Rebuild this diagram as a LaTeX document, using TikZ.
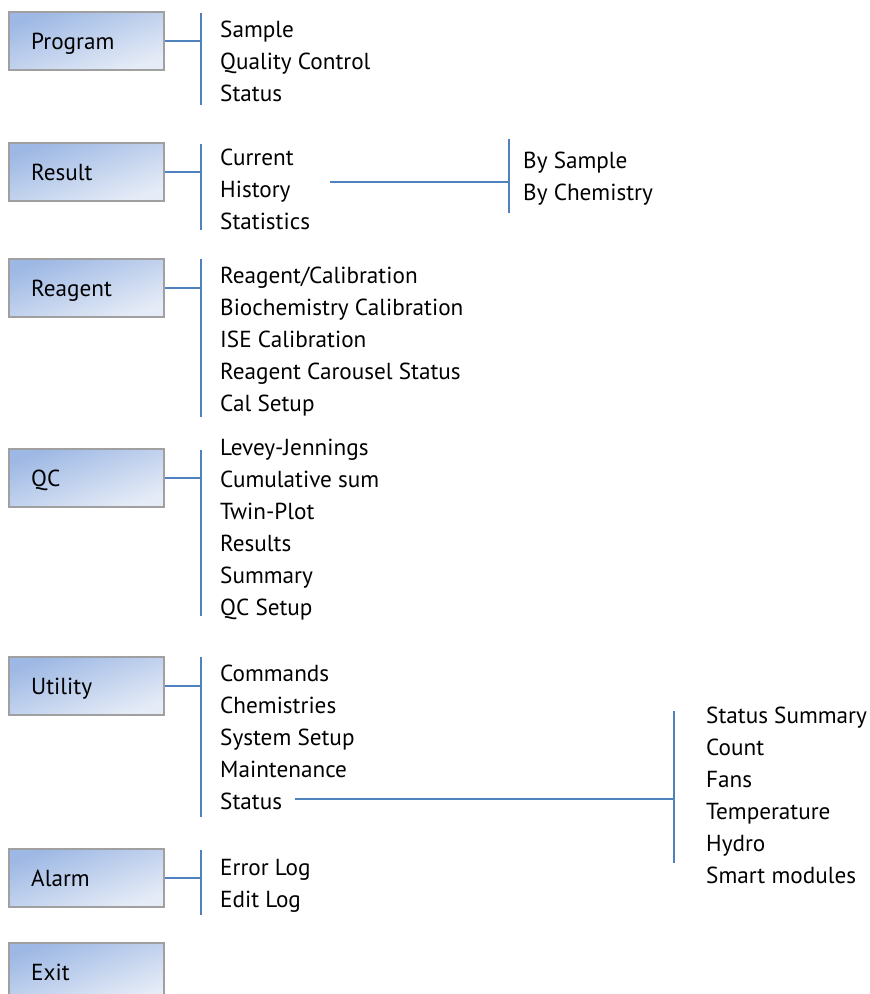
\documentclass[tikz,border=0pt]{standalone}
\usepackage{fontspec}
\setmainfont{PT Sans}
\definecolor{lineblue}{HTML}{4F81BD}
\definecolor{boxdark}{HTML}{9DB8E4}
\definecolor{boxlight}{HTML}{E6ECF7}
\definecolor{boxedge}{HTML}{A0A0A0}
\begin{document}
\begin{tikzpicture}[x=1pt,y=-1pt,
  menubox/.style={draw=boxedge,line width=1.1pt,top color=boxdark,bottom color=boxlight,shading angle=20,
    minimum width=155pt,minimum height=58pt,inner sep=0pt},
  boxlabel/.style={anchor=base west,inner sep=0pt,font=\fontsize{23.2}{27}\selectfont},
  item/.style={anchor=base west,inner sep=0pt,font=\fontsize{23.2}{27}\selectfont},
  conn/.style={draw=lineblue,line width=1.8pt}]
\useasboundingbox (0,0) rectangle (870,994);
% boxes
\foreach \n/\t/\cy in {prog/Program/41,res/Result/172,rea/Reagent/288,qc/QC/478,uti/Utility/686,ala/Alarm/878,exi/Exit/972}{
  \node[menubox] (\n) at (86.5,\cy) {};
  \node[boxlabel] (\n-lbl) at (31,\cy+8) {\t};
}
% bars
\coordinate (progT) at (201,13);  \coordinate (progB) at (201,105);
\coordinate (resT) at (201,144);  \coordinate (resB) at (201,230);
\coordinate (reaT) at (201,259);  \coordinate (reaB) at (201,417);
\coordinate (qcT) at (201,450);   \coordinate (qcB) at (201,616);
\coordinate (utiT) at (201,657);  \coordinate (utiB) at (201,817);
\coordinate (alaT) at (201,850);  \coordinate (alaB) at (201,915);
\foreach \n in {prog,res,rea,qc,uti,ala}{
  \draw[conn] (\n T) -- (\n B);
  \draw[conn] (\n.east) -- (\n.east -| \n T);
}
% items
\node[item] (p1) at (220,37) {Sample};
\node[item] (p2) at (220,69) {Quality Control};
\node[item] (p3) at (220,101) {Status};
\node[item] (r1) at (220,165) {Current};
\node[item] (r2) at (220,197) {History};
\node[item] (r3) at (220,229) {Statistics};
\node[item] (g1) at (220,283) {Reagent/Calibration};
\node[item] (g2) at (220,315) {Biochemistry Calibration};
\node[item] (g3) at (220,347) {ISE Calibration};
\node[item] (g4) at (220,379) {Reagent Carousel Status};
\node[item] (g5) at (220,411) {Cal Setup};
\node[item] (q1) at (220,455) {Levey-Jennings};
\node[item] (q2) at (220,487) {Cumulative sum};
\node[item] (q3) at (220,519) {Twin-Plot};
\node[item] (q4) at (220,551) {Results};
\node[item] (q5) at (220,583) {Summary};
\node[item] (q6) at (220,615) {QC Setup};
\node[item] (u1) at (220,681) {Commands};
\node[item] (u2) at (220,713) {Chemistries};
\node[item] (u3) at (220,745) {System Setup};
\node[item] (u4) at (220,777) {Maintenance};
\node[item] (u5) at (220,809) {Status};
\node[item] (a1) at (220,875) {Error Log};
\node[item] (a2) at (220,907) {Edit Log};
% result sub
\coordinate (bysT) at (509,139); \coordinate (bysB) at (509,213);
\coordinate (histS) at (330,182);
\draw[conn] (bysT) -- (bysB);
\draw[conn] (histS) -- (histS -| bysT);
\node[item] (b1) at (523,168) {By Sample};
\node[item] (b2) at (523,200) {By Chemistry};
% status sub
\coordinate (stT) at (674,711); \coordinate (stB) at (674,863);
\coordinate (statS) at (295,799);
\draw[conn] (stT) -- (stB);
\draw[conn] (statS) -- (statS -| stT);
\node[item] (s1) at (706,723) {Status Summary};
\node[item] (s2) at (706,755) {Count};
\node[item] (s3) at (706,787) {Fans};
\node[item] (s4) at (706,819) {Temperature};
\node[item] (s5) at (706,851) {Hydro};
\node[item] (s6) at (706,883) {Smart modules};
\end{tikzpicture}
\end{document}
